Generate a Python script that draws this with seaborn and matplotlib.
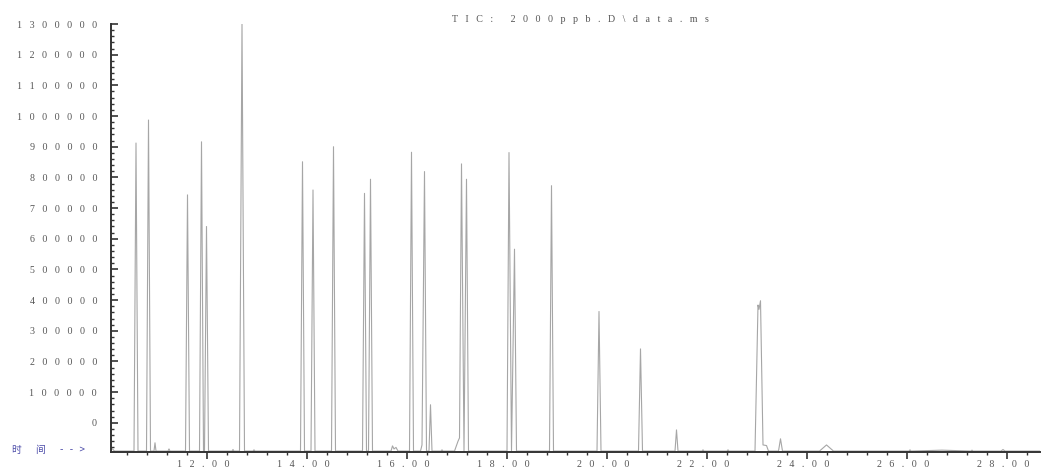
import matplotlib
matplotlib.use("Agg")
import matplotlib.pyplot as plt
import matplotlib.transforms as mtransforms
import seaborn as sns
import pandas as pd
from matplotlib.ticker import FixedLocator, MultipleLocator

# ---- data (retention time in min, abundance) ----
trace_time = [
    10.08, 10.15,
    10.54, 10.58, 10.62,
    10.79, 10.83, 10.87,
    10.94, 10.96, 10.98,
    11.22, 11.24, 11.26,
    11.57, 11.61, 11.65,
    11.85, 11.89, 11.93,
    11.95, 11.99, 12.03,
    12.50, 12.52, 12.54,
    12.65, 12.70, 12.75,
    12.92, 12.94, 12.96,
    13.87, 13.91, 13.95,
    14.08, 14.12, 14.16,
    14.49, 14.53, 14.57,
    15.11, 15.15, 15.19,
    15.23, 15.27, 15.31,
    15.68, 15.71, 15.74, 15.78, 15.82,
    16.05, 16.09, 16.13,
    16.27, 16.30, 16.35, 16.39,
    16.44, 16.47, 16.50,
    16.68, 16.70, 16.72,
    16.95, 17.02, 17.05, 17.09, 17.14,
    17.19, 17.23,
    18.00, 18.04, 18.09,
    18.15, 18.19,
    18.85, 18.89, 18.93,
    19.80, 19.84, 19.88,
    20.63, 20.67, 20.71,
    21.36, 21.39, 21.42,
    21.90, 21.92, 21.94,
    22.40, 22.42, 22.44,
    22.96, 23.02, 23.04, 23.07, 23.12, 23.19, 23.23,
    23.43, 23.47, 23.51,
    24.25, 24.39, 24.53,
    26.04, 26.06, 26.08,
    26.50, 26.70, 26.90,
    27.28, 27.30, 27.32,
    27.88, 27.92, 27.96,
    28.70,
]
trace_abundance = [
    -80000, -92000,
    -92000, 912000, -92000,
    -92000, 987000, -92000,
    -92000, -65000, -92000,
    -92000, -85000, -92000,
    -92000, 743000, -92000,
    -92000, 916000, -92000,
    -92000, 640000, -92000,
    -92000, -87000, -92000,
    -92000, 1300000, -92000,
    -92000, -88000, -92000,
    -92000, 851000, -92000,
    -92000, 759000, -92000,
    -92000, 900000, -92000,
    -92000, 748000, -92000,
    -92000, 794000, -92000,
    -92000, -75000, -85000, -80000, -92000,
    -92000, 882000, -92000,
    -92000, -72000, 819000, -92000,
    -92000, 59000, -92000,
    -92000, -88000, -92000,
    -92000, -60000, -49000, 844000, -92000,
    794000, -92000,
    -92000, 881000, -92000,
    566000, -92000,
    -92000, 773000, -92000,
    -92000, 363000, -92000,
    -92000, 241000, -92000,
    -92000, -23000, -92000,
    -92000, -88000, -92000,
    -92000, -88000, -92000,
    -92000, 384000, 370000, 398000, -72000, -74000, -92000,
    -92000, -52000, -92000,
    -92000, -72000, -92000,
    -92000, -88000, -92000,
    -90000, -89000, -90000,
    -92000, -89000, -92000,
    -92000, -87000, -92000,
    -92000,
]

y_major = [0, 100000, 200000, 300000, 400000, 500000, 600000, 700000,
           800000, 900000, 1000000, 1100000, 1200000, 1300000]
x_major = [12, 14, 16, 18, 20, 22, 24, 26, 28]
x_labels = ["12.00", "14.00", "16.00", "18.00", "20.00", "22.00", "24.00", "26.00", "28.00"]
title_text = "TIC: 2000ppb.D\\data.ms"
time_label_parts = ["时", "间", "-   -   >"]

def spaced(s):
    return "   ".join(list(s))

df = pd.DataFrame({"time": trace_time, "abundance": trace_abundance})

sns.set_style("white")
plt.rcParams["font.family"] = ["Liberation Serif", "DejaVu Serif"]

fig = plt.figure(figsize=(10.47, 4.67), dpi=100)
ax = fig.add_axes([111 / 1047, 1 - 452 / 467, (1040 - 111) / 1047, (452 - 24) / 467])

sns.lineplot(data=df, x="time", y="abundance", ax=ax, color="#a6a6a6",
             linewidth=0.8, estimator=None, sort=False)

ax.set_xlim(10.08, 28.66)
ax.set_ylim(-95000, 1300000)

for s in ["top", "right"]:
    ax.spines[s].set_visible(False)
for s in ["left", "bottom"]:
    ax.spines[s].set_color("#333333")
    ax.spines[s].set_linewidth(1.4)

ax.yaxis.set_major_locator(FixedLocator(y_major))
ax.set_yticklabels([spaced(str(v)) for v in y_major])
ax.yaxis.set_minor_locator(MultipleLocator(20000))
ax.tick_params(axis="y", which="major", direction="in", length=5, width=1.2,
               colors="#333333", labelcolor="#555555", labelsize=7.2, pad=10, left=True)
ax.tick_params(axis="y", which="minor", direction="in", length=2.5, width=1.0,
               colors="#333333", left=True)

ax.xaxis.set_major_locator(FixedLocator(x_major))
ax.set_xticklabels([spaced(l) for l in x_labels])
ax.xaxis.set_minor_locator(MultipleLocator(0.4))
ax.tick_params(axis="x", which="major", direction="out", length=5, width=1.2,
               colors="#333333", labelcolor="#555555", labelsize=7.2, pad=0.5, bottom=True)
ax.tick_params(axis="x", which="minor", direction="out", length=2.5, width=1.0,
               colors="#333333", bottom=True)
shift = mtransforms.ScaledTranslation(-4 / 100, 0, fig.dpi_scale_trans)
for lab in ax.get_xticklabels():
    lab.set_transform(lab.get_transform() + shift)

ax.set_xlabel("")
ax.set_ylabel("")

fig.text(580 / 1047, 1 - 19 / 467, spaced(title_text), ha="center", va="center",
         fontsize=7.2, color="#555555")
for xpos, part in zip([11, 35, 60], time_label_parts):
    fig.text(xpos / 1047, 1 - 450 / 467, part, ha="left", va="center",
             fontsize=7, color="#4a4aa8", family=["Noto Sans CJK SC", "DejaVu Sans"])

fig.savefig("out.png", dpi=100)
